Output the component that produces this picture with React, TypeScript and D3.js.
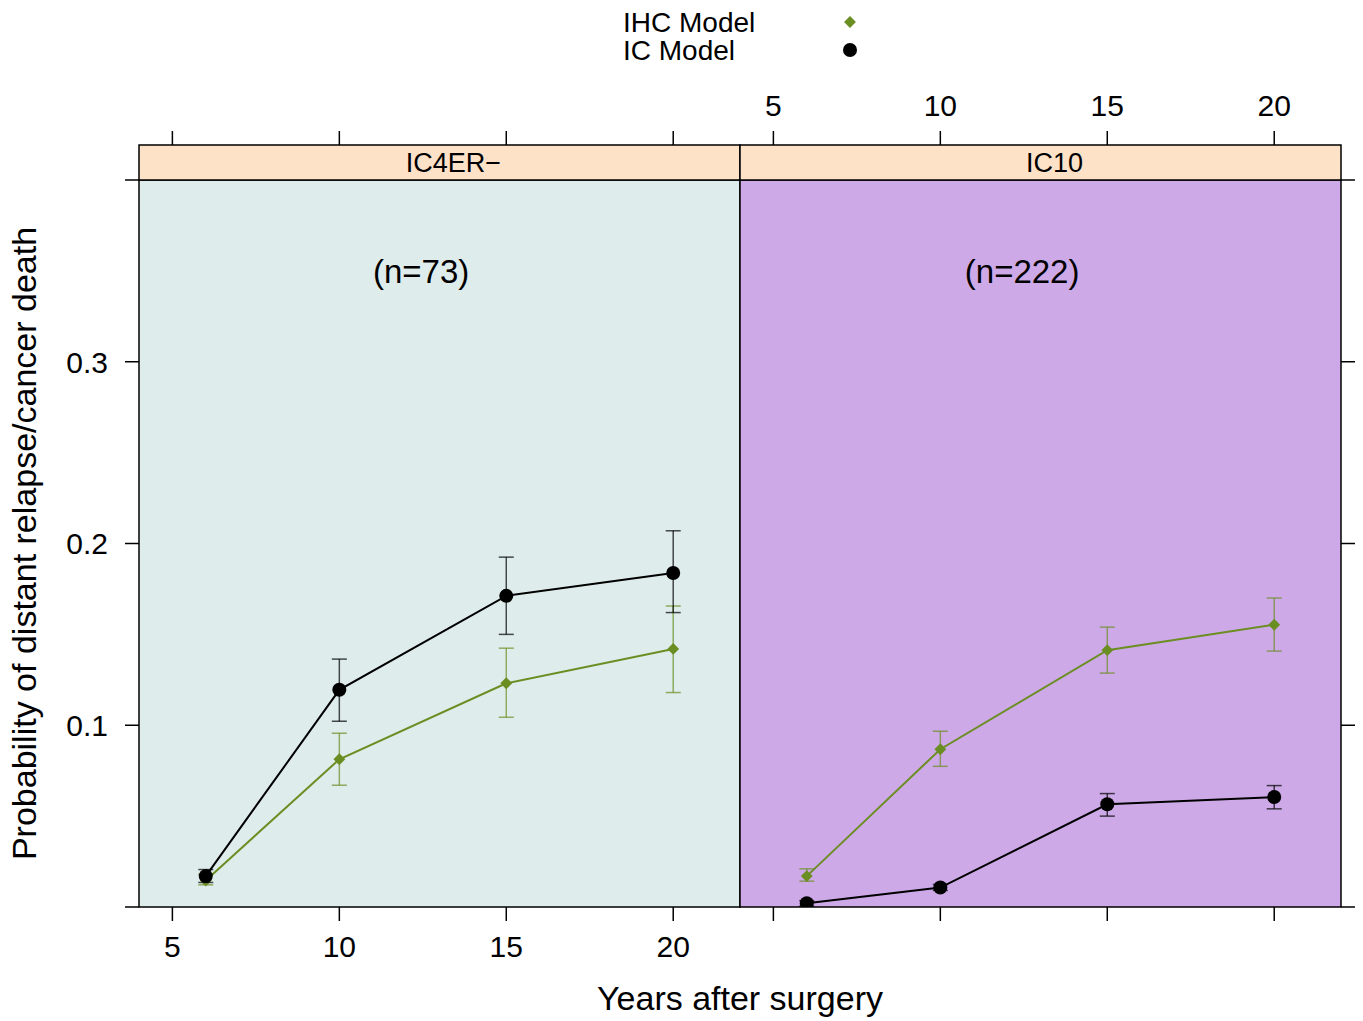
import React from 'react';
import * as d3 from 'd3';

// data
const years = [6, 10, 15, 20];
const panelNames = ['IC4ER\u2212', 'IC10'];
const sampleSizes = ['(n=73)', '(n=222)'];
const xTicks = [5, 10, 15, 20];
const yTicks = [0, 0.1, 0.2, 0.3, 0.4];
const yLabels = [0.1, 0.2, 0.3];

const ic4erIHC = [0.0146, 0.0813, 0.1231, 0.142];
const ic4erIHCLow = [0.0122, 0.067, 0.1044, 0.118];
const ic4erIHCHigh = [0.018, 0.0956, 0.1424, 0.1656];
const ic4erIC = [0.017, 0.1195, 0.1712, 0.1838];
const ic4erICLow = [0.0135, 0.1022, 0.150, 0.162];
const ic4erICHigh = [0.0206, 0.1364, 0.1925, 0.207];

const ic10IHC = [0.017, 0.0868, 0.1413, 0.1553];
const ic10IHCLow = [0.0142, 0.0774, 0.1287, 0.1408];
const ic10IHCHigh = [0.021, 0.0967, 0.154, 0.170];
const ic10IC = [0.0021, 0.0107, 0.0565, 0.0605];
const ic10ICLow = [0.0005, 0.0091, 0.050, 0.054];
const ic10ICHigh = [0.0035, 0.0124, 0.0624, 0.0668];

const GREEN = '#6b8e23';
const FONT = '"Liberation Sans", Arial, Helvetica, sans-serif';

const W = 1363;
const H = 1021;
const left = 139;
const panelW = 601;
const top = 180;
const bottom = 907;
const stripTop = 145;
const panelBg = ['#deeceb', '#cea9e8'];

type Series = { v: number[]; lo: number[]; hi: number[]; color: string; shape: 'diamond' | 'circle' };

const panelSeries: Series[][] = [
  [
    { v: ic4erIHC, lo: ic4erIHCLow, hi: ic4erIHCHigh, color: GREEN, shape: 'diamond' },
    { v: ic4erIC, lo: ic4erICLow, hi: ic4erICHigh, color: '#000', shape: 'circle' },
  ],
  [
    { v: ic10IHC, lo: ic10IHCLow, hi: ic10IHCHigh, color: GREEN, shape: 'diamond' },
    { v: ic10IC, lo: ic10ICLow, hi: ic10ICHigh, color: '#000', shape: 'circle' },
  ],
];

const y = d3.scaleLinear().domain([0, 0.4]).range([bottom, top]);

// lattice pch 18: a square turned on its corner
const diamond = d3.symbol().type(d3.symbolSquare).size(70);

const Diamond = ({ cx, cy, fill }: { cx: number; cy: number; fill: string }) => (
  <path d={diamond() || ''} transform={`translate(${cx},${cy}) rotate(45)`} fill={fill} />
);

const Panel = ({ i }: { i: number }) => {
  const x0 = left + i * panelW;
  const x = d3.scaleLinear().domain([4, 22]).range([x0, x0 + panelW]);
  const line = d3.line<number>().x((_, j) => x(years[j])).y(d => y(d));
  return (
    <g>
      <defs>
        <clipPath id={`clip${i}`}>
          <rect x={x0} y={top} width={panelW} height={bottom - top} />
        </clipPath>
      </defs>
      <rect x={x0} y={top} width={panelW} height={bottom - top} fill={panelBg[i]} />
      <text x={x(12.45)} y={y(0.35)} dy="0.36em" textAnchor="middle" fontSize={33}>
        {sampleSizes[i]}
      </text>
      <g clipPath={`url(#clip${i})`}>
        {panelSeries[i].map((s, k) => (
          <g key={k}>
            {years.map((yr, j) => (
              <g key={j} stroke={s.color} strokeOpacity={0.7} strokeWidth={1.5}>
                <line x1={x(yr)} x2={x(yr)} y1={y(s.lo[j])} y2={y(s.hi[j])} />
                <line x1={x(yr) - 7.5} x2={x(yr) + 7.5} y1={y(s.lo[j])} y2={y(s.lo[j])} />
                <line x1={x(yr) - 7.5} x2={x(yr) + 7.5} y1={y(s.hi[j])} y2={y(s.hi[j])} />
              </g>
            ))}
            <path d={line(s.v) || ''} fill="none" stroke={s.color} strokeWidth={2} />
            {years.map((yr, j) =>
              s.shape === 'circle' ? (
                <circle key={j} cx={x(yr)} cy={y(s.v[j])} r={7} fill={s.color} />
              ) : (
                <Diamond key={j} cx={x(yr)} cy={y(s.v[j])} fill={s.color} />
              )
            )}
          </g>
        ))}
      </g>
      <rect x={x0} y={top} width={panelW} height={bottom - top} fill="none" stroke="#000" strokeWidth={1.5} />
      {/* strip */}
      <rect x={x0} y={stripTop} width={panelW} height={top - stripTop} fill="#fde2c8" stroke="#000" strokeWidth={1.5} />
      <text x={x0 + panelW / 2 + 14} y={(stripTop + top) / 2} dy="0.36em" textAnchor="middle" fontSize={27}>
        {panelNames[i]}
      </text>
      {/* bottom ticks */}
      {xTicks.map(t => (
        <g key={`b${t}`}>
          <line x1={x(t)} x2={x(t)} y1={bottom} y2={bottom + 14} stroke="#000" strokeWidth={1.5} />
          {i === 0 && (
            <text x={x(t)} y={957} textAnchor="middle" fontSize={30}>{t}</text>
          )}
        </g>
      ))}
      {/* top ticks */}
      {xTicks.map(t => (
        <g key={`t${t}`}>
          <line x1={x(t)} x2={x(t)} y1={stripTop} y2={stripTop - 14} stroke="#000" strokeWidth={1.5} />
          {i === 1 && (
            <text x={x(t)} y={116} textAnchor="middle" fontSize={30}>{t}</text>
          )}
        </g>
      ))}
    </g>
  );
};

const App = () => {
  const rightEdge = left + 2 * panelW;
  return (
    <svg width={W} height={H} style={{ position: 'absolute', left: 0, top: 0 }} fontFamily={FONT}>
      <rect width={W} height={H} fill="#fff" />
      {[0, 1].map(i => <Panel key={i} i={i} />)}
      {/* y axis both sides */}
      {yTicks.map(t => (
        <g key={t} stroke="#000" strokeWidth={1.5}>
          <line x1={left - 14} x2={left} y1={y(t)} y2={y(t)} />
          <line x1={rightEdge} x2={rightEdge + 14} y1={y(t)} y2={y(t)} />
        </g>
      ))}
      {yLabels.map(t => (
        <text key={t} x={108} y={y(t)} dy="0.36em" textAnchor="end" fontSize={30}>
          {d3.format('.1f')(t)}
        </text>
      ))}
      <text
        transform={`translate(36,${(top + bottom) / 2}) rotate(-90)`}
        textAnchor="middle"
        fontSize={34}
      >
        Probability of distant relapse/cancer death
      </text>
      <text x={left + panelW} y={1010} textAnchor="middle" fontSize={34}>
        Years after surgery
      </text>
      {/* legend */}
      <text x={623} y={32} fontSize={28}>IHC Model</text>
      <Diamond cx={850} cy={22} fill={GREEN} />
      <text x={623} y={60} fontSize={28}>IC Model</text>
      <circle cx={850} cy={50} r={7} fill="#000" />
    </svg>
  );
};

export default App;
